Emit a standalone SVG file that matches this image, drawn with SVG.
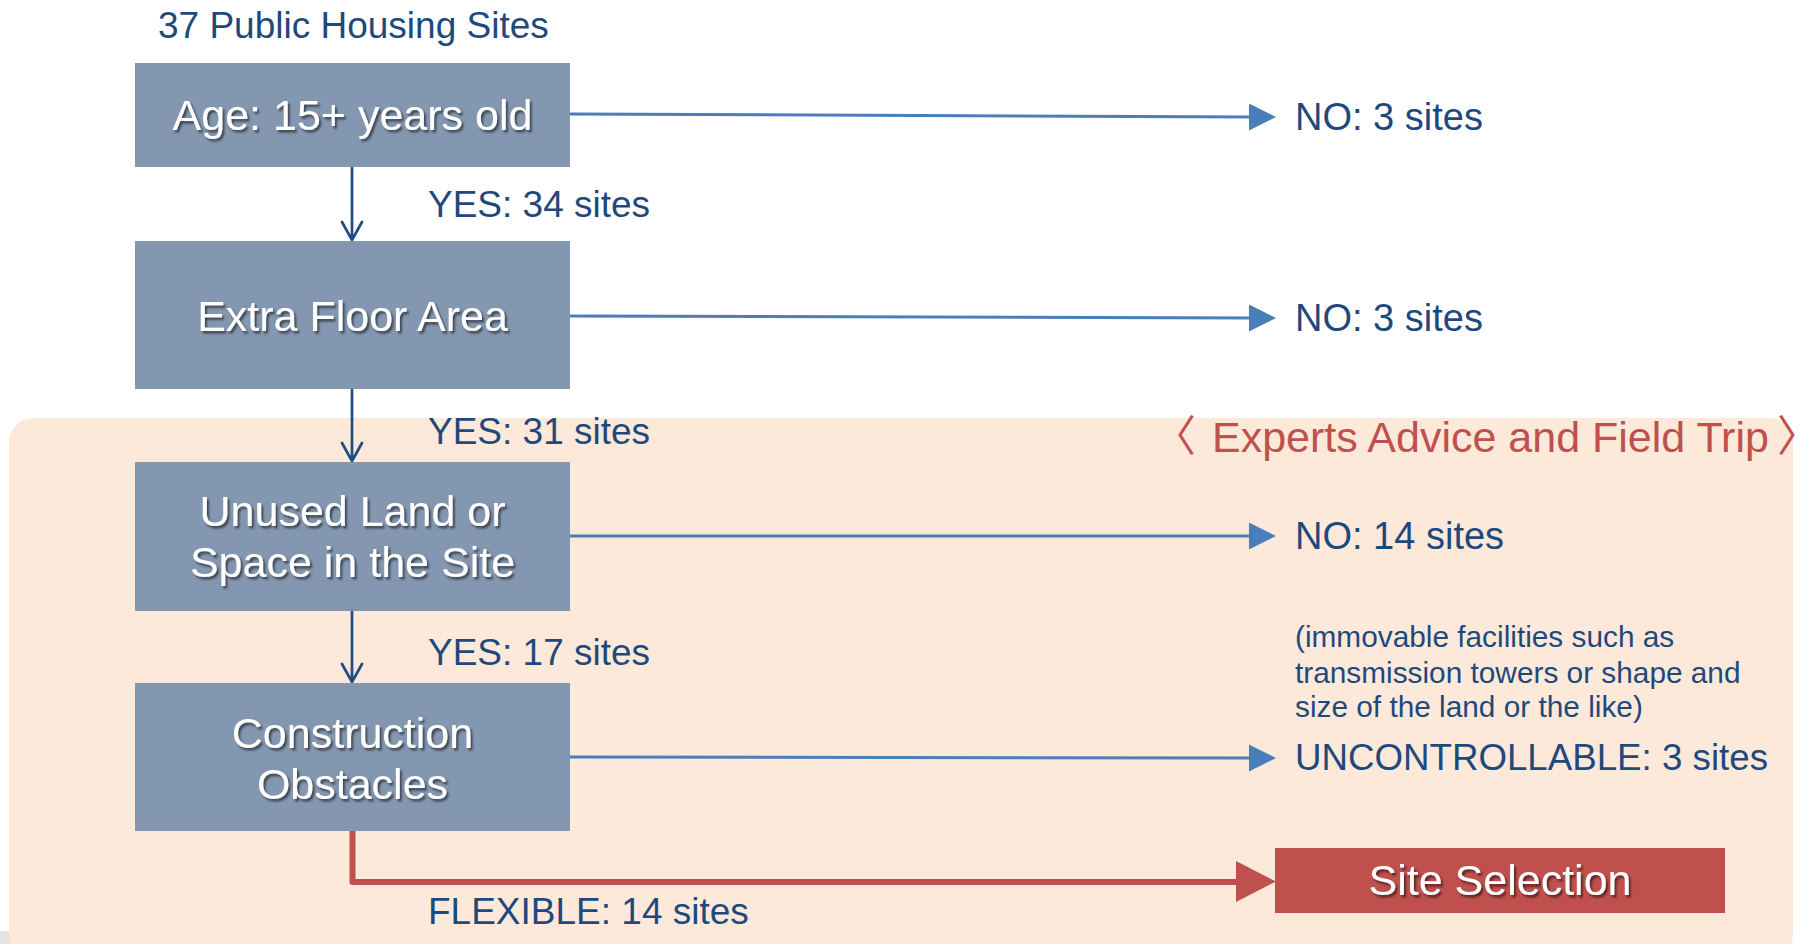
<svg xmlns="http://www.w3.org/2000/svg" width="1810" height="944" viewBox="0 0 1810 944">
  <style>
    .label { font-family: "Liberation Sans", Arial, sans-serif; fill: #1F497D; font-size: 37px; }
    .note { font-family: "Liberation Sans", Arial, sans-serif; fill: #1F497D; font-size: 29.8px; }
    .box { fill: #8497B0; }
    .boxtext { font-family: "Liberation Sans", Arial, sans-serif; fill: #FFFFFF; font-size: 43px; text-anchor: middle; filter: url(#shadow); }
    .flow { stroke: #4A7EBB; stroke-width: 3; fill: none; }
    .down { stroke: #1F4E85; stroke-width: 2.7; fill: none; stroke-linecap: round; stroke-linejoin: round; }
    .head { fill: #4A7EBB; }
    .title { font-family: "Liberation Sans", Arial, "Noto Sans CJK KR", sans-serif; fill: #C0504D; font-size: 43px; }
    .bracket { font-family: "Noto Sans CJK KR", sans-serif; letter-spacing: -22px; }
  </style>
  <defs>
    <filter id="shadow" x="-10%" y="-30%" width="120%" height="160%">
      <feDropShadow dx="2" dy="2.5" stdDeviation="1.2" flood-color="#000000" flood-opacity="0.55"/>
    </filter>
  </defs>

  <!-- page -->
  <rect x="0" y="0" width="1810" height="944" fill="#FFFFFF"/>
  <rect x="0" y="931" width="1700" height="13" fill="#E4E4E4"/>

  <!-- shaded panel for the on-site review stages -->
  <g id="review-panel">
    <rect x="9" y="418" width="1784" height="540" rx="24" ry="24" fill="#FDE9DA"/>
    <text class="title bracket" x="1153" y="452">〈</text>
    <text class="title" x="1212" y="452">Experts Advice and Field Trip</text>
    <text class="title bracket" x="1777" y="452">〉</text>
  </g>

  <text id="source-count" class="label" x="158" y="38">37 Public Housing Sites</text>

  <!-- connectors -->
  <g id="connectors">
    <!-- rejections to the right -->
    <path class="flow" d="M570,114 L1252,117"/>
    <polygon class="head" points="1249,103.5 1276,117 1249,130.5"/>
    <path class="flow" d="M570,316 L1252,318"/>
    <polygon class="head" points="1249,304.5 1276,318 1249,331.5"/>
    <path class="flow" d="M570,536 L1252,536"/>
    <polygon class="head" points="1249,522.5 1276,536 1249,549.5"/>
    <path class="flow" d="M570,757 L1252,758"/>
    <polygon class="head" points="1249,744.5 1276,758 1249,771.5"/>

    <!-- passes downward -->
    <path class="down" d="M352,167 L352,240 M342,222 L352,240 L362,222"/>
    <path class="down" d="M352,389 L352,461 M342,443 L352,461 L362,443"/>
    <path class="down" d="M352,611 L352,682 M342,664 L352,682 L362,664"/>

    <!-- flexible sites to selection -->
    <path d="M352.5,831 L352.5,882 L1238,882" stroke="#C0504D" stroke-width="6" fill="none" stroke-linejoin="round"/>
    <polygon points="1236,861 1276,881.5 1236,902" fill="#C0504D"/>

    <text class="label" x="428" y="217">YES: 34 sites</text>
    <text class="label" x="428" y="444">YES: 31 sites</text>
    <text class="label" x="428" y="665">YES: 17 sites</text>
    <text class="label" x="428" y="924">FLEXIBLE: 14 sites</text>
  </g>

  <!-- screening steps -->
  <g id="step-age">
    <rect class="box" x="135" y="63" width="435" height="104"/>
    <text class="boxtext" x="352.5" y="130">Age: 15+ years old</text>
  </g>
  <g id="step-floor-area">
    <rect class="box" x="135" y="241" width="435" height="148"/>
    <text class="boxtext" x="352.5" y="331">Extra Floor Area</text>
  </g>
  <g id="step-unused-land">
    <rect class="box" x="135" y="462" width="435" height="149"/>
    <text class="boxtext" x="352.5" y="526">Unused Land or</text>
    <text class="boxtext" x="352.5" y="577">Space in the Site</text>
  </g>
  <g id="step-obstacles">
    <rect class="box" x="135" y="683" width="435" height="148"/>
    <text class="boxtext" x="352.5" y="748">Construction</text>
    <text class="boxtext" x="352.5" y="799">Obstacles</text>
  </g>

  <!-- outcomes -->
  <g id="out-age">
    <text class="label" x="1295" y="130" style="font-size:38px">NO: 3 sites</text>
  </g>
  <g id="out-floor-area">
    <text class="label" x="1295" y="331" style="font-size:38px">NO: 3 sites</text>
  </g>
  <g id="out-unused-land">
    <text class="label" x="1295" y="549" style="font-size:38px">NO: 14 sites</text>
  </g>
  <g id="out-obstacles">
    <text class="note" x="1295" y="647">(immovable facilities such as</text>
    <text class="note" x="1295" y="683">transmission towers or shape and</text>
    <text class="note" x="1295" y="717">size of the land or the like)</text>
    <text class="label" x="1295" y="770" style="font-size:36.7px">UNCONTROLLABLE: 3 sites</text>
  </g>
  <g id="site-selection">
    <rect x="1275" y="848" width="450" height="65" fill="#C0504D"/>
    <text class="boxtext" x="1500" y="895">Site Selection</text>
  </g>
</svg>
